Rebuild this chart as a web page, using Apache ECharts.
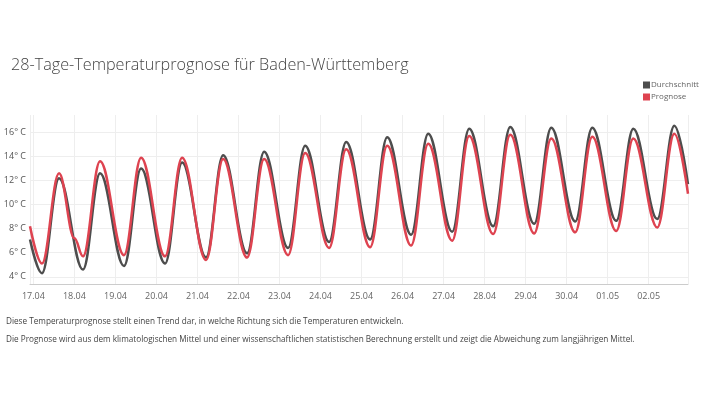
<!DOCTYPE html>
<html>
<head>
<meta charset="utf-8">
<script src="https://cdn.jsdelivr.net/npm/echarts@6/dist/echarts.min.js"></script>
<style>
html,body{margin:0;padding:0;background:#fff;}
#chart{width:703px;height:396px;}
</style>
</head>
<body>
<div id="chart"></div>
<script>
// Days 17.04 .. 02.05 (2024), each day: minimum (~05:00) and maximum (~15:00)
const days = ['2024-04-17','2024-04-18','2024-04-19','2024-04-20','2024-04-21','2024-04-22','2024-04-23','2024-04-24',
              '2024-04-25','2024-04-26','2024-04-27','2024-04-28','2024-04-29','2024-04-30','2024-05-01','2024-05-02'];
const startTime = '2024-04-16 22:00';
const endTime = '2024-05-02 23:00';

// Durchschnitt (long-term average)
const avgStart = 7.1;
const avgMin = [4.3, 4.6, 4.9, 5.1, 5.6, 5.95, 6.4, 6.9, 7.1, 7.5, 7.75, 8.2, 8.4, 8.6, 8.65, 8.8];
const avgMax = [12.2, 12.6, 13.0, 13.5, 14.1, 14.4, 14.9, 15.2, 15.6, 15.9, 16.3, 16.45, 16.4, 16.4, 16.3, 16.55];
const avgEnd = 11.7;

// Prognose (forecast)
const fcStart = 8.2;
const fcMin = [5.1, 5.7, 5.8, 5.7, 5.4, 5.6, 5.8, 6.4, 6.45, 6.6, 7.0, 7.55, 7.6, 7.7, 7.8, 8.1];
const fcMax = [12.6, 13.6, 13.9, 13.9, 13.8, 13.8, 14.3, 14.6, 14.9, 15.05, 15.7, 15.8, 15.5, 15.65, 15.5, 15.9];
const fcEnd = 10.9;
// small shoulder in the forecast around midnight 17./18.04
const fcExtraTimes = ['2024-04-18 00:00'];
const fcExtraValues = [7.2];

const yTicks = [4, 6, 8, 10, 12, 14, 16];

function build(start, mins, maxs, end, extraT, extraV) {
  const out = [[startTime, start]];
  days.forEach((d, i) => {
    out.push([d + ' 05:00', mins[i]]);
    out.push([d + ' 15:00', maxs[i]]);
  });
  out.push([endTime, end]);
  (extraT || []).forEach((t, i) => out.push([t, extraV[i]]));
  out.sort((a, b) => new Date(a[0].replace(' ', 'T')) - new Date(b[0].replace(' ', 'T')));
  return out;
}

const chart = echarts.init(document.getElementById('chart'), null, {renderer: 'canvas'});
const FONT = '"Open Sans", "DejaVu Sans", sans-serif';
chart.setOption({
  animation: false,
  backgroundColor: '#fff',
  title: {
    text: '28-Tage-Temperaturprognose für Baden-Württemberg',
    left: 6, top: 52,
    textStyle: {fontFamily: FONT, fontWeight: 300, fontSize: 16.2, color: '#444'}
  },
  legend: {
    orient: 'vertical',
    left: 643, top: 81,
    itemWidth: 7, itemHeight: 7, itemGap: 4,
    icon: 'rect',
    padding: 0,
    textStyle: {fontFamily: FONT, fontSize: 8, color: '#666', padding: [0, 0, 0, -4]},
    data: ['Durchschnitt', 'Prognose']
  },
  grid: {left: 30, right: 15, top: 115, bottom: 112, containLabel: false},
  xAxis: {
    type: 'time',
    min: startTime, max: endTime,
    minInterval: 86400000, maxInterval: 86400000,
    axisLine: {show: true, lineStyle: {color: '#ccc', width: 1}},
    axisTick: {show: false},
    axisLabel: {formatter: '{dd}.{MM}', fontFamily: FONT, fontSize: 9, color: '#666', margin: 8,
                showMinLabel: false, showMaxLabel: false},
    splitLine: {show: true, lineStyle: {color: '#eee', width: 1}}
  },
  yAxis: {
    type: 'value',
    min: 3.4, max: 17.45,
    splitNumber: 7, minInterval: 2, maxInterval: 2,
    axisLine: {show: false},
    axisTick: {show: false},
    axisLabel: {
      fontFamily: FONT, fontSize: 9, color: '#555', margin: 4,
      formatter: v => (yTicks.indexOf(v) >= 0 ? v + '° C' : ''),
      showMinLabel: false, showMaxLabel: false
    },
    splitLine: {show: true, showMinLine: false, showMaxLine: false, lineStyle: {color: '#eee', width: 1}}
  },
  series: [
    {
      name: 'Durchschnitt', type: 'line', smooth: 0.38, smoothMonotone: 'x', showSymbol: false, symbol: 'none',
      lineStyle: {color: '#4d4d4d', width: 2.5}, itemStyle: {color: '#4d4d4d'},
      data: build(avgStart, avgMin, avgMax, avgEnd)
    },
    {
      name: 'Prognose', type: 'line', smooth: 0.38, smoothMonotone: 'x', showSymbol: false, symbol: 'none',
      lineStyle: {color: '#de4350', width: 2.5}, itemStyle: {color: '#de4350'},
      data: build(fcStart, fcMin, fcMax, fcEnd, fcExtraTimes, fcExtraValues)
    }
  ],
  graphic: [
    {type: 'text', left: 6, top: 318, style: {text: 'Diese Temperaturprognose stellt einen Trend dar, in welche Richtung sich die Temperaturen entwickeln.', font: '8.2px ' + FONT, fill: '#444'}},
    {type: 'text', left: 6, top: 336, style: {text: 'Die Prognose wird aus dem klimatologischen Mittel und einer wissenschaftlichen statistischen Berechnung erstellt und zeigt die Abweichung zum langjährigen Mittel.', font: '8.2px ' + FONT, fill: '#444'}}
  ]
});
</script>
</body>
</html>
